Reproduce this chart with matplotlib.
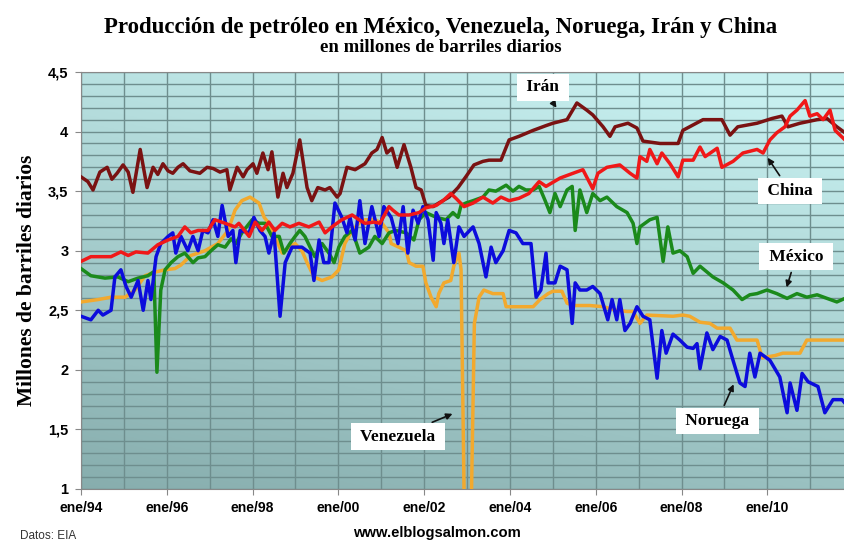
import numpy as np
import matplotlib.pyplot as plt

# valores (años decimales, millones de barriles diarios)
iran_t = [1994.00, 1994.16, 1994.28, 1994.44, 1994.61, 1994.72, 1994.84, 1994.98, 1995.10, 1995.21,
          1995.38, 1995.54, 1995.68, 1995.79, 1995.91, 1996.03, 1996.14, 1996.26, 1996.38, 1996.54,
          1996.77, 1996.94, 1997.08, 1997.24, 1997.40, 1997.47, 1997.64, 1997.78, 1997.87, 1998.01,
          1998.10, 1998.24, 1998.36, 1998.45, 1998.59, 1998.71, 1998.80, 1998.94, 1999.10, 1999.27,
          1999.38, 1999.52, 1999.69, 1999.80, 1999.97, 2000.04, 2000.20, 2000.39, 2000.62, 2000.78,
          2000.90, 2001.02, 2001.13, 2001.25, 2001.37, 2001.53, 2001.69, 2001.81, 2001.93, 2002.04,
          2002.21, 2002.34, 2002.58, 2002.79, 2002.97, 2003.16, 2003.37, 2003.51, 2003.79, 2003.98,
          2004.21, 2004.54, 2004.84, 2005.00, 2005.33, 2005.56, 2005.79, 2005.93, 2006.17, 2006.33,
          2006.45, 2006.75, 2006.96, 2007.10, 2007.50, 2007.92, 2008.03, 2008.50, 2008.94, 2009.13,
          2009.31, 2009.76, 2010.11, 2010.34, 2010.48, 2010.76, 2011.16, 2011.39, 2011.62, 2011.81]
iran = [3.62, 3.58, 3.51, 3.66, 3.70, 3.60, 3.65, 3.72, 3.66, 3.49,
        3.85, 3.53, 3.70, 3.64, 3.73, 3.67, 3.65, 3.70, 3.73, 3.67,
        3.65, 3.70, 3.69, 3.66, 3.68, 3.51, 3.70, 3.62, 3.68, 3.73,
        3.65, 3.82, 3.68, 3.83, 3.45, 3.65, 3.53, 3.65, 3.93, 3.53,
        3.42, 3.53, 3.51, 3.53, 3.45, 3.48, 3.70, 3.68, 3.73, 3.82,
        3.85, 3.95, 3.82, 3.86, 3.70, 3.89, 3.70, 3.53, 3.51, 3.38,
        3.37, 3.40, 3.45, 3.53, 3.62, 3.72, 3.75, 3.76, 3.76, 3.93,
        3.96, 4.01, 4.05, 4.07, 4.10, 4.24, 4.18, 4.14, 4.04, 3.96,
        4.04, 4.07, 4.03, 3.92, 3.90, 3.90, 4.01, 4.10, 4.10, 3.97,
        4.04, 4.07, 4.11, 4.13, 4.04, 4.07, 4.10, 4.11, 4.04, 3.99]

china_t = [1994.00, 1994.23, 1994.44, 1994.70, 1994.93, 1995.10, 1995.28, 1995.56, 1995.79, 1996.03,
           1996.26, 1996.42, 1996.56, 1996.73, 1996.96, 1997.12, 1997.36, 1997.59, 1997.68, 1997.92,
           1998.06, 1998.22, 1998.38, 1998.52, 1998.69, 1998.87, 1999.08, 1999.31, 1999.55, 1999.69,
           1999.85, 2000.08, 2000.32, 2000.48, 2000.62, 2000.83, 2000.97, 2001.18, 2001.27, 2001.41,
           2001.65, 2001.88, 2002.04, 2002.28, 2002.44, 2002.62, 2002.74, 2002.93, 2003.14, 2003.37,
           2003.60, 2003.79, 2003.98, 2004.21, 2004.44, 2004.68, 2004.84, 2005.17, 2005.47, 2005.70,
           2005.93, 2006.05, 2006.26, 2006.56, 2006.80, 2006.96, 2007.03, 2007.19, 2007.26, 2007.43,
           2007.54, 2007.73, 2007.92, 2008.03, 2008.27, 2008.43, 2008.55, 2008.83, 2008.94, 2009.20,
           2009.43, 2009.76, 2009.90, 2010.06, 2010.22, 2010.41, 2010.53, 2010.69, 2010.88, 2010.99,
           2011.16, 2011.30, 2011.46, 2011.58, 2011.81]
china = [2.91, 2.95, 2.95, 2.95, 2.99, 2.96, 2.99, 2.98, 3.05, 3.09,
         3.12, 3.20, 3.15, 3.17, 3.17, 3.26, 3.23, 3.20, 3.23, 3.12,
         3.24, 3.17, 3.24, 3.17, 3.23, 3.20, 3.23, 3.20, 3.24, 3.15,
         3.20, 3.26, 3.30, 3.26, 3.23, 3.24, 3.23, 3.37, 3.34, 3.30,
         3.30, 3.32, 3.36, 3.38, 3.42, 3.48, 3.44, 3.37, 3.40, 3.45,
         3.40, 3.45, 3.42, 3.44, 3.48, 3.58, 3.54, 3.61, 3.65, 3.68,
         3.52, 3.65, 3.70, 3.72, 3.65, 3.61, 3.79, 3.75, 3.85, 3.73,
         3.82, 3.73, 3.62, 3.76, 3.76, 3.87, 3.79, 3.86, 3.70, 3.75,
         3.82, 3.85, 3.82, 3.93, 3.99, 4.04, 4.13, 4.18, 4.26, 4.13,
         4.15, 4.10, 4.18, 4.01, 3.93]

mexico_t = [1994.00, 1994.23, 1994.56, 1994.86, 1995.10, 1995.33, 1995.56, 1995.68, 1995.70, 1995.77,
            1995.86, 1995.96, 1996.10, 1996.26, 1996.42, 1996.61, 1996.73, 1996.89, 1997.03, 1997.19,
            1997.36, 1997.50, 1997.61, 1997.75, 1997.99, 1998.15, 1998.29, 1998.45, 1998.62, 1998.73,
            1998.87, 1998.99, 1999.10, 1999.22, 1999.34, 1999.45, 1999.62, 1999.78, 1999.90, 2000.01,
            2000.15, 2000.32, 2000.50, 2000.71, 2000.85, 2001.02, 2001.18, 2001.34, 2001.58, 2001.76,
            2001.88, 2002.04, 2002.28, 2002.51, 2002.67, 2002.79, 2002.86, 2002.97, 2003.14, 2003.37,
            2003.51, 2003.67, 2003.91, 2004.07, 2004.21, 2004.37, 2004.54, 2004.68, 2004.82, 2004.93,
            2005.05, 2005.17, 2005.33, 2005.45, 2005.52, 2005.63, 2005.79, 2005.93, 2006.10, 2006.26,
            2006.49, 2006.73, 2006.87, 2006.96, 2007.03, 2007.26, 2007.43, 2007.57, 2007.68, 2007.80,
            2007.96, 2008.13, 2008.27, 2008.43, 2008.73, 2008.97, 2009.20, 2009.41, 2009.59, 2009.76,
            2009.99, 2010.22, 2010.46, 2010.69, 2010.92, 2011.16, 2011.39, 2011.62, 2011.81]
mexico = [2.85, 2.79, 2.77, 2.78, 2.74, 2.77, 2.79, 2.82, 2.80, 1.98,
          2.67, 2.84, 2.90, 2.95, 2.98, 2.90, 2.94, 2.95, 3.00, 3.05,
          3.03, 3.10, 3.06, 3.15, 3.26, 3.23, 3.23, 3.12, 3.12, 2.98,
          3.06, 3.12, 3.17, 3.12, 3.03, 2.95, 3.06, 2.98, 2.90, 3.03,
          3.12, 3.17, 2.98, 3.03, 3.12, 3.06, 3.15, 3.17, 3.15, 3.09,
          3.26, 3.32, 3.28, 3.26, 3.32, 3.28, 3.38, 3.40, 3.42, 3.45,
          3.51, 3.50, 3.55, 3.50, 3.54, 3.51, 3.51, 3.54, 3.42, 3.32,
          3.48, 3.37, 3.51, 3.54, 3.17, 3.51, 3.32, 3.48, 3.42, 3.45,
          3.37, 3.32, 3.23, 3.06, 3.20, 3.26, 3.28, 2.91, 3.20, 2.98,
          3.00, 2.95, 2.81, 2.87, 2.78, 2.73, 2.67, 2.59, 2.63, 2.64,
          2.67, 2.64, 2.60, 2.64, 2.61, 2.63, 2.60, 2.57, 2.60]

noruega_t = [1994.00, 1994.23, 1994.40, 1994.51, 1994.70, 1994.79, 1994.93, 1995.05, 1995.17, 1995.33,
             1995.45, 1995.56, 1995.63, 1995.75, 1995.86, 1996.03, 1996.14, 1996.21, 1996.33, 1996.49,
             1996.61, 1996.73, 1996.84, 1996.96, 1997.08, 1997.19, 1997.29, 1997.43, 1997.54, 1997.61,
             1997.71, 1997.92, 1998.03, 1998.17, 1998.29, 1998.38, 1998.50, 1998.64, 1998.76, 1998.92,
             1999.15, 1999.34, 1999.43, 1999.55, 1999.66, 1999.78, 1999.92, 2000.08, 2000.20, 2000.27,
             2000.39, 2000.50, 2000.62, 2000.78, 2000.95, 2001.06, 2001.23, 2001.39, 2001.51, 2001.62,
             2001.74, 2001.86, 2001.97, 2002.09, 2002.21, 2002.28, 2002.39, 2002.46, 2002.55, 2002.69,
             2002.81, 2002.93, 2003.14, 2003.28, 2003.44, 2003.56, 2003.67, 2003.84, 2003.98, 2004.14,
             2004.30, 2004.49, 2004.61, 2004.72, 2004.84, 2004.89, 2005.05, 2005.17, 2005.33, 2005.45,
             2005.52, 2005.63, 2005.79, 2005.93, 2006.10, 2006.28, 2006.38, 2006.49, 2006.56, 2006.68,
             2006.80, 2006.96, 2007.10, 2007.26, 2007.43, 2007.54, 2007.64, 2007.80, 2007.96, 2008.13,
             2008.27, 2008.36, 2008.43, 2008.59, 2008.73, 2008.90, 2009.06, 2009.20, 2009.36, 2009.48,
             2009.59, 2009.71, 2009.83, 2010.06, 2010.29, 2010.46, 2010.53, 2010.69, 2010.81, 2010.95,
             2011.18, 2011.34, 2011.53, 2011.74, 2011.81]
noruega = [2.45, 2.42, 2.50, 2.46, 2.50, 2.78, 2.84, 2.70, 2.61, 2.75,
           2.50, 2.75, 2.59, 2.95, 3.06, 3.12, 3.15, 2.98, 3.12, 3.00,
           3.12, 3.00, 3.17, 3.15, 3.26, 3.12, 3.38, 3.12, 3.17, 2.90,
           3.17, 3.15, 3.28, 3.17, 3.12, 2.98, 3.15, 2.45, 2.90, 3.03,
           3.03, 2.98, 2.75, 3.09, 2.90, 2.90, 3.40, 3.28, 3.15, 3.28,
           3.09, 3.42, 3.06, 3.37, 3.12, 3.37, 3.28, 3.06, 3.37, 2.98,
           3.34, 3.23, 3.37, 3.26, 2.92, 3.32, 3.23, 3.06, 3.26, 2.90,
           3.20, 3.12, 3.20, 3.06, 2.78, 3.03, 2.90, 3.00, 3.17, 3.15,
           3.06, 3.06, 2.61, 2.67, 2.98, 2.73, 2.73, 2.87, 2.84, 2.39,
           2.73, 2.67, 2.67, 2.70, 2.64, 2.42, 2.59, 2.42, 2.59, 2.33,
           2.39, 2.53, 2.45, 2.42, 1.93, 2.33, 2.14, 2.30, 2.25, 2.19,
           2.18, 2.22, 2.01, 2.31, 2.17, 2.28, 2.25, 2.08, 1.89, 1.86,
           2.14, 1.94, 2.14, 2.08, 1.94, 1.64, 1.89, 1.66, 1.97, 1.90,
           1.86, 1.64, 1.75, 1.75, 1.72]

venezuela_t = [1994.00, 1994.40, 1994.70, 1995.03, 1995.26, 1995.49, 1995.72, 1995.96, 1996.19, 1996.33,
               1996.56, 1996.89, 1997.19, 1997.43, 1997.59, 1997.75, 1997.94, 1998.15, 1998.27, 1998.38,
               1998.52, 1998.69, 1998.85, 1998.99, 1999.15, 1999.27, 1999.43, 1999.62, 1999.85, 2000.01,
               2000.15, 2000.32, 2000.48, 2000.62, 2000.85, 2001.02, 2001.18, 2001.23, 2001.41, 2001.58,
               2001.65, 2001.81, 2001.97, 2002.04, 2002.16, 2002.28, 2002.34, 2002.46, 2002.62, 2002.69,
               2002.81, 2002.86, 2002.94, 2003.02, 2003.10, 2003.17, 2003.28, 2003.39, 2003.60, 2003.84,
               2003.91, 2004.21, 2004.54, 2004.70, 2004.89, 2005.00, 2005.21, 2005.33, 2005.47, 2005.86,
               2006.17, 2006.49, 2006.73, 2006.87, 2007.03, 2007.19, 2007.80, 2008.03, 2008.19, 2008.43,
               2008.66, 2008.83, 2009.13, 2009.29, 2009.76, 2009.88, 2010.01, 2010.18, 2010.36, 2010.76,
               2010.92, 2011.81]
venezuela = [2.57, 2.59, 2.61, 2.61, 2.67, 2.79, 2.82, 2.84, 2.85, 2.88,
             2.96, 3.00, 3.06, 3.17, 3.34, 3.42, 3.45, 3.40, 3.28, 3.23,
             3.12, 2.98, 3.03, 3.06, 3.00, 2.90, 2.78, 2.75, 2.78, 2.84,
             3.06, 3.17, 3.23, 3.26, 3.26, 3.23, 3.15, 3.06, 3.03, 3.00,
             2.90, 2.87, 2.87, 2.73, 2.61, 2.53, 2.64, 2.73, 2.75, 2.87,
             2.98, 2.84, 0.70, 0.65, 0.90, 2.39, 2.61, 2.67, 2.64, 2.64,
             2.53, 2.53, 2.53, 2.59, 2.64, 2.66, 2.66, 2.56, 2.54, 2.54,
             2.53, 2.50, 2.49, 2.49, 2.39, 2.46, 2.45, 2.46, 2.45, 2.40,
             2.39, 2.35, 2.35, 2.25, 2.25, 2.10, 2.11, 2.12, 2.14, 2.14,
             2.25, 2.25]

tick_years = [1994, 1996, 1998, 2000, 2002, 2004, 2006, 2008, 2010]
tick_labels = ['ene/94', 'ene/96', 'ene/98', 'ene/00', 'ene/02', 'ene/04', 'ene/06', 'ene/08', 'ene/10']
y_ticks = [1, 1.5, 2, 2.5, 3, 3.5, 4, 4.5]
y_labels = ['1', '1,5', '2', '2,5', '3', '3,5', '4', '4,5']

serif = 'Liberation Serif'
sans = 'Liberation Sans'
x0, x1 = 1994.0, 2011.81

fig = plt.figure(figsize=(8.45, 5.41), dpi=100)
ax = fig.add_axes([81 / 845, 52 / 541, 764 / 845, 417 / 541])
ax.set_xlim(x0, x1)
ax.set_ylim(1, 4.5)

# fondo degradado (oscuro abajo a la izquierda, claro arriba a la derecha)
yy, xx = np.mgrid[0:1:200j, 0:1:200j]
v = np.clip(0.78 * yy + 0.3 * xx, 0, 1)[..., None]
dark = np.array([0.53, 0.68, 0.68])
light = np.array([0.78, 0.94, 0.94])
ax.imshow(dark + (light - dark) * v, extent=[x0, x1, 1, 4.5], origin='lower',
          aspect='auto', zorder=0)

ax.set_yticks(np.arange(1, 4.51, 0.1), minor=True)
ax.set_xticks(np.arange(1994, 2012), minor=True)
ax.grid(which='both', color='#6e8e8e', linewidth=1.0, zorder=1)
ax.set_axisbelow(True)

ax.plot(venezuela_t, venezuela, color='#f2a92e', lw=2.5, zorder=3)
ax.plot(mexico_t, mexico, color='#1b8a1b', lw=2.5, zorder=4)
ax.plot(noruega_t, noruega, color='#0c0cdc', lw=2.5, zorder=5)
ax.plot(iran_t, iran, color='#7a1212', lw=2.5, zorder=6)
ax.plot(china_t, china, color='#f01818', lw=2.5, zorder=7)

ax.set_xticks(tick_years)
ax.set_xticklabels(tick_labels, fontfamily=sans, fontweight='bold', fontsize=10)
ax.set_yticks(y_ticks)
ax.set_yticklabels(y_labels, fontfamily=sans, fontweight='bold', fontsize=10.5)
ax.tick_params(which='major', direction='out', length=4, color='#888888', pad=5)
ax.tick_params(which='minor', length=0)
for s in ['left', 'bottom', 'top']:
    ax.spines[s].set_color('#888888')
ax.spines['right'].set_visible(False)

ax.set_ylabel('Millones de barriles diarios', fontfamily=serif, fontweight='bold',
              fontsize=15.5, labelpad=8)

box = dict(boxstyle='square,pad=0.3', facecolor='white', edgecolor='none')
arrow = dict(arrowstyle='-|>', color='#111111', lw=1.2, mutation_scale=9)
labels = [(' Irán ', 2005.12, 4.18, 2004.77, 4.37),
          (' China ', 2009.97, 3.80, 2010.53, 3.50),
          (' México ', 2010.43, 2.67, 2010.67, 2.95),
          (' Noruega ', 2009.24, 1.90, 2008.83, 1.57),
          (' Venezuela ', 2002.72, 1.64, 2001.39, 1.44)]
for txt, xa, ya, xt, yt in labels:
    ax.annotate(txt, xy=(xa, ya), xytext=(xt, yt), ha='center', va='center',
                fontfamily=serif, fontweight='bold', fontsize=12.5, bbox=box,
                arrowprops=arrow, zorder=10)

fig.text(441 / 845, 1 - 28 / 541, 'Producción de petróleo en México, Venezuela, Noruega, Irán y China',
         ha='center', va='center', fontfamily=serif, fontweight='bold', fontsize=16.5)
fig.text(441 / 845, 1 - 48 / 541, 'en millones de barriles diarios',
         ha='center', va='center', fontfamily=serif, fontweight='bold', fontsize=13.5)
fig.text(437 / 845, 1 - 533 / 541, 'www.elblogsalmon.com', ha='center', va='center',
         fontfamily=sans, fontweight='bold', fontsize=10.6)
fig.text(20 / 845, 1 - 536 / 541, 'Datos: EIA', ha='left', va='center',
         fontfamily=sans, fontsize=8.5, color='#333333')

fig.savefig('out.png', dpi=100)
